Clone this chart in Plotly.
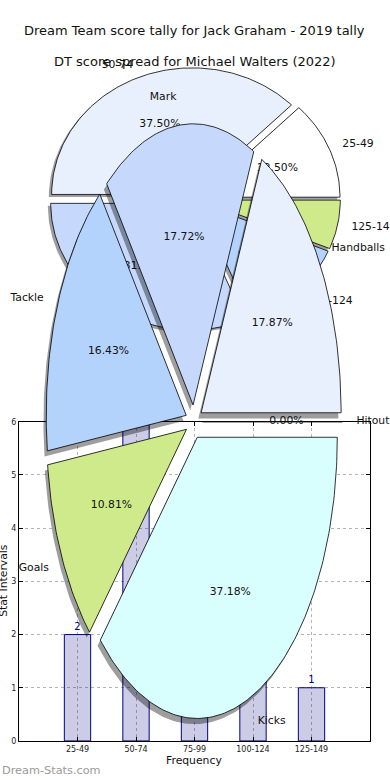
import numpy as np
import plotly.graph_objects as go

# ---------------- data ----------------
title_jack = "Dream Team score tally for Jack Graham - 2019 tally"
title_walters = "DT score spread for Michael Walters (2022)"
interval_labels = ['25-49', '50-74', '75-99', '100-124', '125-149']
interval_counts = [2, 6, 5, 2, 1]
stat_labels = ['Handballs', 'Mark', 'Tackle', 'Goals', 'Kicks', 'Hitout']
stat_pcts = [17.87, 17.72, 16.43, 10.81, 37.18, 0.00]
x_title = "Frequency"
y_title = "Stat Intervals"
watermark = "Dream-Stats.com"

# ---------------- styles ----------------
pie1_colors = ['#ffffff', '#e9f0fd', '#c6d9fc', '#b3d3fd', '#cfea8b']
pie2_colors = ['#e9f0fd', '#c6d9fc', '#b3d3fd', '#cfea8b', '#d9fefe', '#ffffff']
FONT = "DejaVu Sans"
W = 390          # figure width (px)
H = 790          # figure height (px)
A_OFF = 3.5      # vertical page mapping: page_y = A_OFF + B_SC * fig_y
B_SC = 0.988

# pie geometry in target pixels (center, radii) and explode
PIE1 = dict(cx=194.3, cy=198.5, rx=140.5, ry=126.5, explode=0.04)
PIE2 = dict(cx=194.0, cy=421.0, rx=140.0, ry=281.0, explode=0.06)
SHADOW = (-0.02, -0.02)


def to_fig_y(y):
    return (y - A_OFF) / B_SC


def fx(x):
    return x / W


def fy(y):
    return 1 - to_fig_y(y) / H


fig = go.Figure()


def axis_ranges(p):
    cy = to_fig_y(p['cy'])
    ry = p['ry'] / B_SC
    xr = [(0 - p['cx']) / p['rx'], (W - p['cx']) / p['rx']]
    yr = [(cy - H) / ry, cy / ry]
    return xr, yr


def wedge_pts(t1, t2, ox, oy):
    n = max(2, int(abs(t2 - t1) / 1.0) + 2)
    t = np.radians(np.linspace(t1, t2, n))
    xs = np.concatenate([[ox], ox + np.cos(t), [ox]])
    ys = np.concatenate([[oy], oy + np.sin(t), [oy]])
    return xs, ys


def add_pie(values, labels, colors, p, xa, ya):
    vals = np.asarray(values, dtype=float)
    fr = vals / vals.sum()
    t1s = 360 * np.concatenate([[0], np.cumsum(fr)[:-1]])
    t2s = t1s + 360 * fr
    ex = p['explode']
    geo = []
    for i in range(len(vals)):
        mid = np.radians((t1s[i] + t2s[i]) / 2)
        ox, oy = ex * np.cos(mid), ex * np.sin(mid)
        geo.append((t1s[i], t2s[i], ox, oy, mid))
    # shadows
    for (t1, t2, ox, oy, mid) in geo:
        if t2 - t1 <= 0:
            continue
        xs, ys = wedge_pts(t1, t2, ox + SHADOW[0], oy + SHADOW[1])
        fig.add_trace(go.Scatter(x=xs, y=ys, xaxis=xa, yaxis=ya, mode='lines',
                                 fill='toself', fillcolor='rgba(0,0,0,0.38)',
                                 line=dict(width=0), hoverinfo='skip'))
    # wedges
    for i, (t1, t2, ox, oy, mid) in enumerate(geo):
        xs, ys = wedge_pts(t1, t2, ox, oy)
        fig.add_trace(go.Scatter(x=xs, y=ys, xaxis=xa, yaxis=ya, mode='lines',
                                 fill='toself', fillcolor=colors[i],
                                 line=dict(color='black', width=0.8),
                                 hoverinfo='skip'))
    # labels
    lx, ly, lpos, px_, py_, ptxt = [], [], [], [], [], []
    for i, (t1, t2, ox, oy, mid) in enumerate(geo):
        xt = ox + 1.1 * np.cos(mid)
        yt = oy + 1.1 * np.sin(mid)
        lx.append(xt)
        ly.append(yt)
        lpos.append('middle right' if xt > 0 else 'middle left')
        px_.append(ox + 0.6 * np.cos(mid))
        py_.append(oy + 0.6 * np.sin(mid))
        ptxt.append('%1.2f%%' % (100 * fr[i]))
    fig.add_trace(go.Scatter(x=lx, y=ly, xaxis=xa, yaxis=ya, mode='text',
                             text=labels, textposition=lpos,
                             textfont=dict(family=FONT, size=10.8, color='#111'),
                             hoverinfo='skip'))
    fig.add_trace(go.Scatter(x=px_, y=py_, xaxis=xa, yaxis=ya, mode='text',
                             text=ptxt, textposition='middle center',
                             textfont=dict(family=FONT, size=10.8, color='#111'),
                             hoverinfo='skip'))


# ---------------- bar chart (bottom layer) ----------------
fig.add_trace(go.Bar(x=interval_labels, y=interval_counts, width=0.45,
                     marker=dict(color='rgba(0,0,128,0.2)',
                                 line=dict(color='#000080', width=1)),
                     text=[str(v) for v in interval_counts],
                     textposition='outside',
                     textfont=dict(family=FONT, size=10, color='#000080'),
                     xaxis='x', yaxis='y', hoverinfo='skip'))

# ---------------- pies ----------------
add_pie(interval_counts, interval_labels, pie1_colors, PIE1, 'x2', 'y2')
add_pie(stat_pcts, stat_labels, pie2_colors, PIE2, 'x3', 'y3')

xr1, yr1 = axis_ranges(PIE1)
xr2, yr2 = axis_ranges(PIE2)

bar_x0, bar_x1, bar_y0, bar_y1 = 19, 370, 421, 740
common_axis = dict(showline=True, mirror='ticks', linecolor='black', linewidth=1,
                   ticks='inside', ticklen=4, tickcolor='black', tickwidth=1,
                   showgrid=True, gridcolor='#b5b5b5', griddash='dot', gridwidth=1,
                   zeroline=False, tickfont=dict(family=FONT, size=8, color='#222'))
hidden = dict(visible=False, showgrid=False, zeroline=False, fixedrange=True)

fig.update_layout(
    width=W, height=H,
    margin=dict(l=0, r=0, t=0, b=0),
    paper_bgcolor='white', plot_bgcolor='rgba(0,0,0,0)',
    showlegend=False,
    xaxis=dict(domain=[fx(bar_x0), fx(bar_x1)], anchor='y', type='category',
               categoryorder='array', categoryarray=interval_labels,
               range=[-1, 5], **common_axis),
    yaxis=dict(domain=[fy(bar_y1), fy(bar_y0)], anchor='x',
               range=[0, 6], dtick=1, **common_axis),
    xaxis2=dict(domain=[0, 1], anchor='y2', range=xr1, **hidden),
    yaxis2=dict(domain=[0, 1], anchor='x2', range=yr1, **hidden),
    xaxis3=dict(domain=[0, 1], anchor='y3', range=xr2, **hidden),
    yaxis3=dict(domain=[0, 1], anchor='x3', range=yr2, **hidden),
    annotations=[
        dict(text=title_jack, x=fx(194), y=fy(30), xref='paper', yref='paper',
             showarrow=False, font=dict(family=FONT, size=13, color='#111'),
             xanchor='center', yanchor='middle'),
        dict(text=title_walters, x=fx(195), y=fy(61), xref='paper', yref='paper',
             showarrow=False, font=dict(family=FONT, size=13, color='#111'),
             xanchor='center', yanchor='middle'),
        dict(text=x_title, x=fx(194), y=fy(760), xref='paper', yref='paper',
             showarrow=False, font=dict(family=FONT, size=10.8, color='#111'),
             xanchor='center', yanchor='middle'),
        dict(text=y_title, x=fx(4), y=fy(580), xref='paper', yref='paper',
             showarrow=False, textangle=-90,
             font=dict(family=FONT, size=10.8, color='#111'),
             xanchor='center', yanchor='middle'),
        dict(text=watermark, x=0, y=fy(770), xref='paper', yref='paper',
             showarrow=False, font=dict(family=FONT, size=11.3, color='#9a9a9a'),
             xanchor='left', yanchor='middle'),
    ],
)

fig.write_html("out.html", config=dict(displayModeBar=False),
               post_script="document.body.style.margin='0';"
                           "document.body.style.overflow='hidden';")
